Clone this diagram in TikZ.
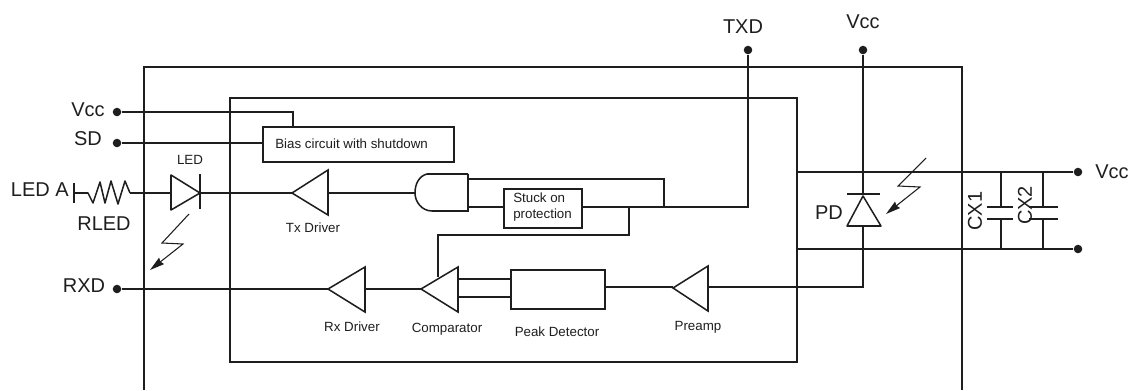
\documentclass[tikz,border=0pt]{standalone}
\usepackage{fontspec}
\setmainfont{Liberation Sans}
\usetikzlibrary{arrows.meta}
\definecolor{ink}{HTML}{1E1E1E}
\tikzset{
  wire/.style={draw=ink,line width=1.15pt,line join=miter},
  blockbox/.style={draw=ink,line width=1.25pt,fill=white,inner sep=0pt,anchor=north west},
  big/.style={font=\fontsize{15}{17}\selectfont,text=ink,inner sep=0pt},
  small/.style={font=\fontsize{10}{12}\selectfont,text=ink,inner sep=0pt},
  dot/.style={circle,fill=ink,minimum size=6.4pt,inner sep=0pt},
  bolt/.style={draw=ink,line width=0.8pt,-{Stealth[length=11pt,width=6pt,inset=1pt]}},
}
\begin{document}
\begin{tikzpicture}[x=0.75pt,y=-0.75pt]
\useasboundingbox (0,0) rectangle (1136,390);
% enclosures
\coordinate (outerBL) at (144,390);
\coordinate (outerTL) at (144,67);
\coordinate (outerTR) at (962,67);
\coordinate (outerBR) at (962,390);
\draw[wire] (outerBL) -- (outerTL) -- (outerTR) -- (outerBR);
\coordinate (innerTL) at (230,98);
\coordinate (innerBR) at (797,362);
\draw[wire] (innerTL) rectangle (innerBR);
% terminals
\node[dot] (vccL) at (117,112) {};
\node[dot] (sd) at (117,143) {};
\node[dot] (rxd) at (117,289) {};
\node[dot] (txd) at (748,50) {};
\node[dot] (vccT) at (863,50) {};
\node[dot] (vccR) at (1078,172) {};
\node[dot] (gndR) at (1078,249) {};
% boxes
\node[blockbox,minimum width=143.25pt,minimum height=26.25pt] (bias) at (262,126) {};
\node[small,anchor=west] (biastext) at (275,143.5) {Bias circuit with shutdown};
\node[blockbox,minimum width=58.5pt,minimum height=29.25pt] (stuck) at (503,188) {};
\node[small,align=left,anchor=west] (stucktext) at (513,207) {Stuck on\\protection};
\node[blockbox,minimum width=70.5pt,minimum height=29.25pt] (peak) at (510,269) {};
% bias wires
\coordinate (vccdrop) at (293,126);
\draw[wire] (vccL) -- (293,112) -- (vccdrop);
\draw[wire] (sd) -- (sd -| bias.west);
% LED branch
\coordinate (rleft) at (74,193);
\coordinate (rright) at (130,193);
\draw[wire] (74,183) -- (74,203);
\draw[wire,line join=round] (rleft) -- (88,193) -- (93,203) -- (100,182) -- (105,203) -- (111,181) -- (118,204) -- (125,181) -- (rright);
\coordinate (ledA) at (171,193);
\coordinate (ledK) at (200,193);
\draw[wire] (rright) -- (ledA);
\draw[wire,line join=round] (ledA |- 0,175) -- (ledK) -- (ledA |- 0,210) -- cycle;
\draw[wire] (200,174) -- (200,209);
% triangles
\coordinate (txtip) at (292,193);
\coordinate (rxtip) at (328,289);
\coordinate (cmptip) at (421,289);
\coordinate (pretip) at (673,288);
\draw[wire] (txtip) -- (328,170) -- (328,215) -- cycle;
\draw[wire] (rxtip) -- (365,267) -- (365,312) -- cycle;
\draw[wire] (cmptip) -- (458,267) -- (458,312) -- cycle;
\draw[wire] (pretip) -- (708,266) -- (708,311) -- cycle;
% AND gate
\coordinate (andin) at (415,193);
\draw[wire] (468,174) -- (468,211) -- (432,211) .. controls (422,211) and (415,202) .. (andin) .. controls (415,184) and (419,176) .. (427,174) -- (468,174);
% signal wires
\draw[wire] (ledK) -- (txtip);
\draw[wire] (328,193) -- (andin);
\draw[wire] (468,179) -- (664,179) -- (664,207);
\draw[wire] (468,207) -- (stuck.west |- 0,207);
\coordinate (txdj) at (748,207);
\draw[wire] (stuck.east |- 0,207) -- (txdj) -- (txd);
\draw[wire] (629,207) -- (629,235) -- (438,235) -- (438,277);
\draw[wire] (rxd) -- (rxtip);
\draw[wire] (365,289) -- (cmptip);
\draw[wire] (458,279) -- (peak.west |- 0,279);
\draw[wire] (458,297) -- (peak.west |- 0,297);
\draw[wire] (peak.east |- 0,287) -- (pretip |- 0,287);
% photodiode
\coordinate (pdtop) at (863,194);
\coordinate (pdbase) at (863,226);
\coordinate (pdout) at (863,287);
\draw[wire] (vccT) -- (pdtop);
\draw[wire] (847,194) -- (880,194);
\draw[wire,line join=round] (863,196) -- (881,226) -- (847,226) -- cycle;
\draw[wire] (pdbase) -- (pdout) -- (708,287);
% right rails
\draw[wire] (797,172) -- (vccR);
\draw[wire] (797,249) -- (gndR);
% capacitors
\draw[wire] (1001,172) -- (1001,207);
\draw[wire] (987,207) -- (1013,207);
\draw[wire] (987,219) -- (1013,219);
\draw[wire] (1001,219) -- (1001,249);
\draw[wire] (1043,172) -- (1043,207);
\draw[wire] (1029,207) -- (1058,207);
\draw[wire] (1029,219) -- (1058,219);
\draw[wire] (1043,219) -- (1043,249);
% light bolts
\draw[bolt] (189,214) -- (162,243) -- (183,244) -- (150,270);
\draw[bolt] (926,158) -- (898,186) -- (920,187) -- (886,214);
% labels
\node[big] (lblvccL) at (88,110) {Vcc};
\node[big] (lblsd) at (88,139) {SD};
\node[big,anchor=east] (lblleda) at (69,190) {LED A};
\node[big] (lblrled) at (104,224) {RLED};
\node[big] (lblrxd) at (84,286) {RXD};
\node[big] (lbltxd) at (743,27) {TXD};
\node[big] (lblvccT) at (863,22) {Vcc};
\node[big] (lblvccR) at (1112,172) {Vcc};
\node[big] (lblpd) at (829,213) {PD};
\node[big,rotate=90] (lblcx1) at (975,211) {CX1};
\node[big,rotate=90] (lblcx2) at (1025,205.5) {CX2};
\node[small] (lblled) at (190,160) {LED};
\node[small] (lbltx) at (313,228) {Tx Driver};
\node[small] (lblrx) at (352,327) {Rx Driver};
\node[small] (lblcmp) at (447,329) {Comparator};
\node[small] (lblpeak) at (557,332) {Peak Detector};
\node[small] (lblpre) at (698,327) {Preamp};
\end{tikzpicture}
\end{document}
